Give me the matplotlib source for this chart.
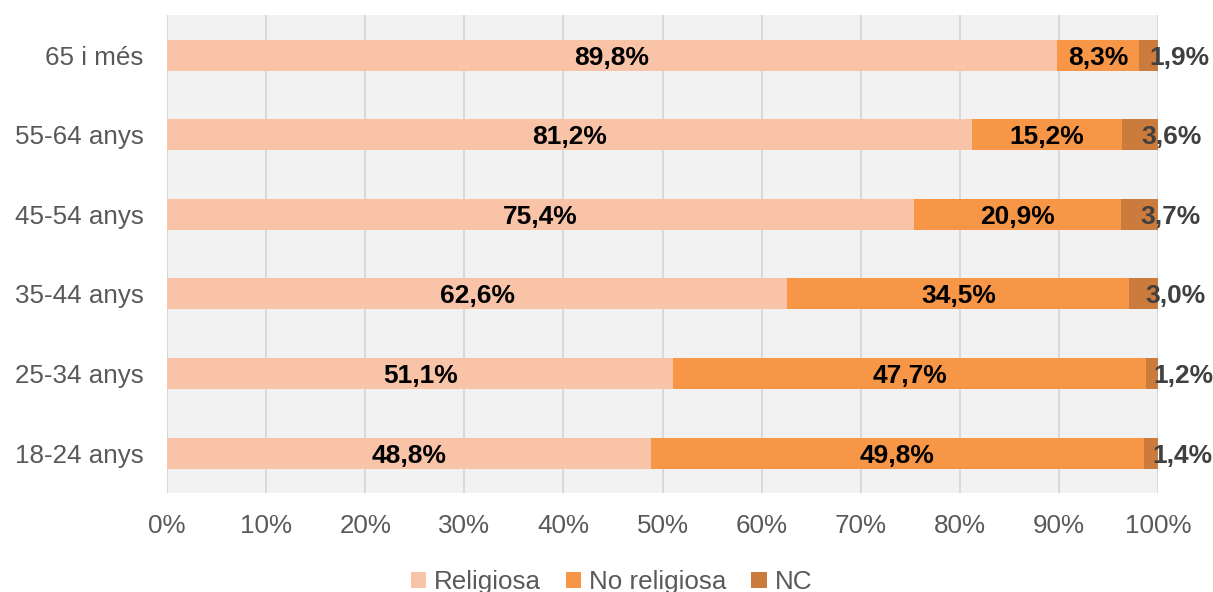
import matplotlib.pyplot as plt
from matplotlib.patches import Patch

plt.rcParams['font.family'] = ['Liberation Sans', 'DejaVu Sans']

categories = ["18-24 anys", "25-34 anys", "35-44 anys", "45-54 anys", "55-64 anys", "65 i més"]
religiosa = [48.8, 51.1, 62.6, 75.4, 81.2, 89.8]
no_religiosa = [49.8, 47.7, 34.5, 20.9, 15.2, 8.3]
nc = [1.4, 1.2, 3.0, 3.7, 3.6, 1.9]
series_names = ["Religiosa", "No religiosa", "NC"]
colors = ["#F9C3A8", "#F79646", "#CB7B3C"]
xticks = [0, 10, 20, 30, 40, 50, 60, 70, 80, 90, 100]


def fmt(v):
    return f"{v:.1f}%".replace(".", ",")


fig = plt.figure(figsize=(12.13, 5.92), dpi=100)
ax = fig.add_axes([0.1377, 0.1672, 0.817, 0.807])
ax.set_facecolor("#F2F2F2")

ypos = list(range(len(categories)))
h = 0.39
ax.barh(ypos, religiosa, height=h, color=colors[0], zorder=3)
ax.barh(ypos, no_religiosa, left=religiosa, height=h, color=colors[1], zorder=3)
left_nc = [a + b for a, b in zip(religiosa, no_religiosa)]
ax.barh(ypos, nc, left=left_nc, height=h, color=colors[2], zorder=3)

lab = dict(fontsize=19, fontweight="bold", va="center_baseline", zorder=4)
for i in ypos:
    ax.text(religiosa[i] / 2, i, fmt(religiosa[i]), ha="center", color="black", **lab)
    ax.text(religiosa[i] + no_religiosa[i] / 2, i, fmt(no_religiosa[i]), ha="center",
            color="black", **lab)
    ax.text(left_nc[i] + nc[i] / 2 + 0.1, i, fmt(nc[i]), ha="left", color="#404040",
            clip_on=False, **lab)

ax.set_xlim(0, 100)
ax.set_ylim(-0.5, len(categories) - 0.5)
ax.set_xticks(xticks)
ax.set_xticklabels([f"{t}%" for t in xticks])
ax.set_yticks(ypos)
ax.set_yticklabels(categories)
ax.tick_params(axis="x", length=0, pad=15, labelsize=18.7, labelcolor="#595959")
ax.tick_params(axis="y", length=0, pad=17, labelsize=18.7, labelcolor="#595959")
ax.grid(axis="x", color="#D9D9D9", linewidth=1.4, zorder=0)
ax.set_axisbelow(True)
for s in ax.spines.values():
    s.set_visible(False)

handles = [Patch(facecolor=c, edgecolor="none") for c in colors]
fig.legend(handles, series_names, loc="center", bbox_to_anchor=(0.504, 0.017), ncol=3,
           frameon=False, fontsize=18.7, labelcolor="#595959", handlelength=0.6,
           handleheight=0.6, handletextpad=0.3, columnspacing=0.95)

fig.savefig("out.png", dpi=100)
